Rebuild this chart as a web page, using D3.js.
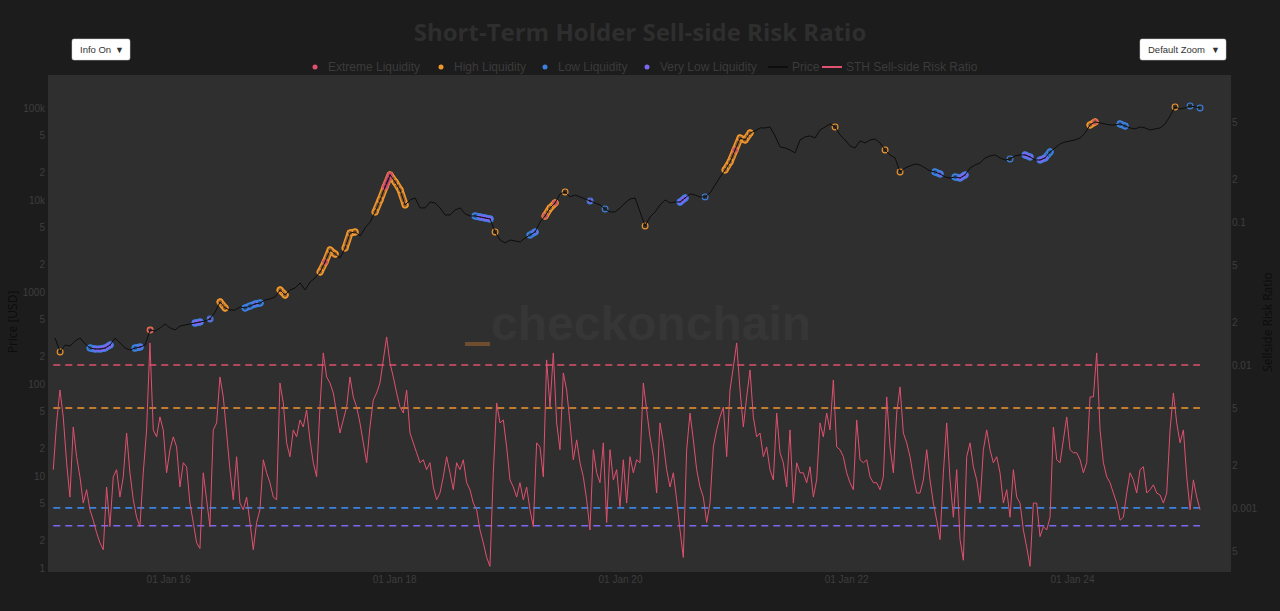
<!DOCTYPE html>
<html><head><meta charset="utf-8">
<script src="https://cdn.jsdelivr.net/npm/d3@7"></script>
<style>
html,body{margin:0;padding:0;background:#1c1c1c;overflow:hidden;}
svg{display:block;font-family:"Open Sans","Liberation Sans",Arial,sans-serif;}
</style></head><body>
<svg id="chart" width="1280" height="611"></svg>
<script>
// ---------------- DATA ----------------
const chartTitle = "Short-Term Holder Sell-side Risk Ratio";
const legendNames = ["Extreme Liquidity","High Liquidity","Low Liquidity","Very Low Liquidity","Price","STH Sell-side Risk Ratio"];
const thresholdValues = [0.01, 0.005, 0.001, 0.00075]; // Extreme, High, Low, Very Low
const priceStart = "2015-01-01", priceEnd = "2025-02-18";
const priceValues = [316,223,265,259,293,316,272,246,240,240,246,265,316,279,246,234,246,252,265,386,377,406,449,406,386,427,438,449,460,472,484,509,606,779,670,637,637,687,670,705,741,759,819,840,883,1051,928,1051,1105,1253,1051,1284,1419,1649,2118,2862,2589,2342,3008,4377,4487,4063,4963,5768,7411,10000,13840,18700,15700,12850,8830,10000,10510,8190,8190,9510,9270,8190,6870,6870,7780,8190,7050,6700,6700,6530,6370,6210,4490,3670,3410,3670,3580,3490,3860,4170,4490,5770,6700,8190,9270,11620,12210,10790,11330,10790,10250,9750,9270,8830,7980,7410,7410,8190,9270,10250,10510,7410,5220,6530,7410,8830,10000,9270,9510,9510,10510,11620,11330,10790,10790,11910,14560,17780,21200,25880,34930,47180,44900,53480,56280,60640,60640,62130,49640,37670,36740,34930,32430,44900,48430,49640,47180,57660,62130,66980,62130,50920,44900,38610,36740,43770,41660,44900,46020,41660,34930,30840,28630,20150,22270,23420,24620,23990,22270,20660,20150,19170,17780,17320,17780,17320,18700,22270,23990,25240,28630,30070,30840,28630,27200,27900,30070,30840,30840,29330,27200,27200,28630,33240,36740,40640,42680,43770,44900,47180,53480,65350,70440,68700,66980,65350,65350,66980,63710,60640,59140,62130,60640,57660,59140,60640,66980,81850,102500,97590,100000,105100,102500,100000];
const riskStart = "2014-12-26", riskEnd = "2025-02-18";
const riskValues = [
0.00185,0.00393,0.00668,0.00433,0.00207,0.00119,0.00368,0.00228,0.00165,0.00108,
0.00134,0.00097,0.00082,0.00067,0.00057,0.00051,0.00140,0.00074,0.00165,0.00185,
0.00119,0.00165,0.00334,0.00176,0.00114,0.00086,0.00074,0.00176,0.00351,0.01425,
0.00351,0.00314,0.00433,0.00351,0.00176,0.00255,0.00314,0.00267,0.00140,0.00207,
0.00194,0.00108,0.00079,0.00057,0.00052,0.00176,0.00114,0.00074,0.00351,0.00393,
0.00824,0.00597,0.00334,0.00185,0.00114,0.00228,0.00108,0.00097,0.00119,0.00079,
0.00051,0.00079,0.00097,0.00217,0.00176,0.00150,0.00119,0.00114,0.00748,0.00542,
0.00285,0.00228,0.00351,0.00314,0.00412,0.00368,0.00484,0.00299,0.00207,0.00165,
0.00508,0.01213,0.00824,0.00748,0.00637,0.00461,0.00334,0.00412,0.00508,0.00824,
0.00597,0.00508,0.00393,0.00285,0.00207,0.00368,0.00569,0.00637,0.00748,0.01084,
0.01570,0.01033,0.00824,0.00637,0.00508,0.00461,0.00668,0.00334,0.00285,0.00243,
0.00207,0.00217,0.00185,
0.00207,0.00140,0.00114,0.00127,0.00165,0.00228,0.00176,0.00134,0.00207,0.00185,
0.00217,0.00150,0.00134,0.00108,0.00097,0.00070,0.00057,0.00045,0.00039,0.00176,
0.00542,0.00393,0.00412,0.00267,0.00157,0.00140,0.00119,0.00150,0.00114,0.00140,
0.00097,0.00074,0.00285,0.00267,0.00165,0.01084,0.00508,0.01213,0.00393,0.00255,
0.00879,0.00668,0.00393,0.00217,0.00299,0.00207,0.00165,0.00114,0.00070,0.00255,
0.00176,0.00150,0.00285,0.00079,0.00255,0.00157,0.00185,0.00102,0.00217,0.00108,
0.00228,0.00176,0.00217,0.00207,0.00748,0.00484,0.00314,0.00228,0.00127,0.00393,
0.00285,0.00185,0.00140,0.00176,0.00114,0.00070,0.00045,0.00255,0.00461,0.00299,
0.00185,0.00140,0.00119,0.00079,0.00108,0.00267,0.00351,0.00433,0.00508,0.00228,
0.00668,0.00968,0.01425,0.00668,0.00368,0.00597,0.00923,0.00433,0.00314,0.00334,
0.00228,0.00267,0.00185,0.00157,0.00461,0.00243,0.00207,0.00140,0.00351,0.00108,
0.00207,0.00176,0.00176,0.00150,0.00194,0.00119,0.00157,
0.00393,0.00314,0.00461,0.00351,0.00785,0.00267,0.00255,0.00228,0.00176,0.00150,
0.00134,0.00412,0.00217,0.00207,0.00217,0.00165,0.00150,0.00150,0.00134,0.00165,
0.00597,0.00267,0.00176,0.00461,0.00702,0.00334,0.00285,0.00228,0.00165,0.00127,
0.00127,0.00157,0.00255,0.00157,0.00108,0.00082,0.00060,0.00176,0.00393,0.00157,
0.00086,0.00185,0.00060,0.00043,0.00228,0.00285,0.00194,0.00157,0.00108,0.00255,
0.00351,0.00255,0.00207,0.00228,0.00176,0.00108,0.00134,0.00086,0.00185,0.00119,
0.00108,0.00070,0.00053,0.00039,0.00108,0.00108,0.00063,0.00074,0.00070,0.00086,
0.00368,0.00217,0.00207,0.00299,0.00433,0.00255,0.00243,0.00243,0.00217,0.00176,
0.00207,0.00597,0.00597,0.01213,0.00351,0.00207,0.00165,0.00150,0.00127,0.00108,
0.00082,0.00086,0.00127,0.00176,0.00157,0.00127,0.00185,0.00194,0.00127,0.00134,
0.00145,0.00127,0.00123,0.00108,0.00127,0.00351,0.00637,0.00393,0.00285,0.00351,
0.00165,0.00097,0.00157,0.00119,0.00097];
const priceTickValues = [1,2,5,10,20,50,100,200,500,1000,2000,5000,10000,20000,50000,100000];
const priceTickLabels = ["1","2","5","10","2","5","100","2","5","1000","2","5","10k","2","5","100k"];
const riskTickValues = [0.0005,0.001,0.002,0.005,0.01,0.02,0.05,0.1,0.2,0.5];
const riskTickLabels = ["5","0.001","2","5","0.01","2","5","0.1","2","5"];

// ---------------- STYLE / LAYOUT ----------------
const W = 1280, H = 611;
const plot = {left: 48, right: 1231, top: 75, bottom: 572};
const colors = {
  extreme: "#e0506f", high: "#f0962c", low: "#3b82e0", verylow: "#7a68f2",
  price: "#0d0d0d", risk: "#e0506f",
  paper: "#1c1c1c", plotBg: "#2f2f2f", text: "#3b3b3b", tick: "#3e3e3e"
};
const svg = d3.select("#chart");

svg.append("rect").attr("width", W).attr("height", H).attr("fill", colors.paper);
svg.append("rect").attr("x", plot.left).attr("y", plot.top)
  .attr("width", plot.right - plot.left).attr("height", plot.bottom - plot.top)
  .attr("fill", colors.plotBg);

// scales
const x = d3.scaleTime()
  .domain([new Date("2014-12-09"), new Date("2025-05-29")])
  .range([plot.left, plot.right]);
const yPrice = d3.scaleLog().domain([0.905, 228000]).range([plot.bottom, plot.top]);
const yRisk = d3.scaleLog().domain([0.000356, 1.067]).range([plot.bottom, plot.top]);

function evenDates(start, end, n) {
  const a = +new Date(start), b = +new Date(end);
  return d3.range(n).map(i => new Date(a + (b - a) * i / (n - 1)));
}
const priceData = evenDates(priceStart, priceEnd, priceValues.length).map((d, i) => ({date: d, v: priceValues[i]}));
const riskData = evenDates(riskStart, riskEnd, riskValues.length).map((d, i) => ({date: d, v: riskValues[i]}));

// watermark
const wm = svg.append("g");
wm.append("rect").attr("x", 465).attr("y", 342).attr("width", 25).attr("height", 4).attr("fill", "#6e4e2e");
wm.append("text").attr("x", 491).attr("y", 340).attr("font-size", 48).attr("font-weight", "bold")
  .attr("font-family", "Liberation Sans, Arial, sans-serif")
  .attr("fill", "#363636").text("checkonchain");

// axes (ticks as text)
const gL = svg.append("g").attr("transform", `translate(${plot.left},0)`);
gL.call(d3.axisLeft(yPrice).tickValues(priceTickValues)
  .tickFormat((d, i) => priceTickLabels[i]).tickSize(0).tickPadding(3));
const gR = svg.append("g").attr("transform", `translate(${plot.right},0)`);
gR.call(d3.axisRight(yRisk).tickValues(riskTickValues)
  .tickFormat((d, i) => riskTickLabels[i]).tickSize(0).tickPadding(1));
const gB = svg.append("g").attr("transform", `translate(0,${plot.bottom})`);
gB.call(d3.axisBottom(x).ticks(d3.timeYear.every(2)).tickFormat(d3.timeFormat("%d %b %y")).tickSize(0).tickPadding(4));
[gL, gR, gB].forEach(g => {
  g.select(".domain").remove();
  g.selectAll("text").attr("fill", colors.tick).attr("font-size", 10).attr("font-family", "Liberation Sans, Arial, sans-serif");
});

// axis titles
svg.append("text").attr("transform", "translate(17,322) rotate(-90)").attr("text-anchor", "middle")
  .attr("font-size", 12).attr("fill", "#0c0c0c").text("Price [USD]");
svg.append("text").attr("transform", "translate(1272,322) rotate(-90)").attr("text-anchor", "middle")
  .attr("font-size", 12).attr("fill", "#0c0c0c").text("Sellside Risk Ratio");

// clip
svg.append("clipPath").attr("id", "clip").append("rect")
  .attr("x", plot.left).attr("y", plot.top).attr("width", plot.right - plot.left).attr("height", plot.bottom - plot.top);
const gP = svg.append("g").attr("clip-path", "url(#clip)");

// threshold lines
const thrColors = [colors.extreme, colors.high, colors.low, colors.verylow];
gP.selectAll("line.thr").data(thresholdValues).join("line").attr("class", "thr")
  .attr("x1", x(new Date(riskStart))).attr("x2", x(new Date(riskEnd)))
  .attr("y1", d => yRisk(d)).attr("y2", d => yRisk(d))
  .attr("stroke", (d, i) => thrColors[i]).attr("stroke-width", 1.6).attr("stroke-dasharray", "7,5");

// risk line
gP.append("path").datum(riskData)
  .attr("d", d3.line().x(d => x(d.date)).y(d => yRisk(d.v)))
  .attr("fill", "none").attr("stroke", colors.risk).attr("stroke-width", 1);

// liquidity regime of each price sample: max / min of the risk samples inside its time window
const halfStep = (+new Date(priceEnd) - +new Date(priceStart)) / (priceValues.length - 1) / 2;
priceData.forEach(p => {
  const inWin = riskData.filter(r => Math.abs(+r.date - +p.date) <= halfStep * 1.05);
  const vals = inWin.length ? inWin.map(r => r.v) : [riskData[d3.bisector(d => d.date).center(riskData, p.date)].v];
  p.rMax = d3.max(vals); p.rMin = d3.min(vals);
});
const groups = [
  {key: "high", test: p => p.rMax >= thresholdValues[1], color: colors.high, w: 7},
  {key: "extreme", test: p => p.rMax >= thresholdValues[0], color: colors.extreme, w: 6},
  {key: "low", test: p => p.rMin <= thresholdValues[2], color: colors.low, w: 7},
  {key: "verylow", test: p => p.rMin <= thresholdValues[3], color: colors.verylow, w: 5}
];
const lineP = d3.line().x(d => x(d.date)).y(d => yPrice(d.v));
groups.forEach(g => {
  const runs = [];
  let cur = null;
  priceData.forEach(p => {
    if (g.test(p)) { if (!cur) { cur = []; runs.push(cur); } cur.push(p); }
    else cur = null;
  });
  const gg = gP.append("g").attr("class", g.key);
  runs.forEach(run => {
    if (run.length > 1) {
      gg.append("path").datum(run).attr("d", lineP).attr("fill", "none")
        .attr("stroke", g.color).attr("stroke-width", g.w).attr("stroke-linejoin", "round").attr("stroke-linecap", "round");
      gg.append("path").datum(run).attr("d", lineP).attr("fill", "none")
        .attr("stroke", "#2a2a3a").attr("stroke-opacity", 0.55).attr("stroke-width", g.w - 3.2)
        .attr("stroke-linejoin", "round").attr("stroke-linecap", "round");
    }
    run.forEach(p => {
      gg.append("circle").attr("cx", x(p.date)).attr("cy", yPrice(p.v)).attr("r", g.w / 2 - 0.6)
        .attr("fill", "none").attr("stroke", g.color).attr("stroke-width", 1.1);
    });
  });
});
// price line
gP.append("path").datum(priceData)
  .attr("d", lineP).attr("fill", "none").attr("stroke", colors.price).attr("stroke-width", 1);

// title
svg.append("text").attr("x", 640).attr("y", 41).attr("text-anchor", "middle")
  .attr("font-size", 24).attr("font-weight", "bold").attr("fill", "#2e2e2e")
  .attr("font-family", "Open Sans, Liberation Sans, sans-serif").text(chartTitle);

// legend
const legX = [315, 441, 545, 647, 768, 822];
const legSym = [colors.extreme, colors.high, colors.low, colors.verylow, colors.price, colors.risk];
const leg = svg.append("g").attr("font-family", "Liberation Sans, Arial, sans-serif");
legendNames.forEach((name, i) => {
  const g = leg.append("g");
  if (i < 4) {
    g.append("circle").attr("cx", legX[i]).attr("cy", 67).attr("r", 2.5).attr("fill", legSym[i]);
    g.append("text").attr("x", legX[i] + 13).attr("y", 71).attr("font-size", 12).attr("fill", colors.text).text(name);
  } else {
    g.append("line").attr("x1", legX[i]).attr("x2", legX[i] + 20).attr("y1", 67).attr("y2", 67)
      .attr("stroke", legSym[i]).attr("stroke-width", 2);
    g.append("text").attr("x", legX[i] + 24).attr("y", 71).attr("font-size", 12).attr("fill", colors.text).text(name);
  }
});

// dropdown buttons
function button(x0, y0, w, label) {
  const g = svg.append("g").attr("font-family", "Liberation Sans, Arial, sans-serif");
  g.append("rect").attr("x", x0).attr("y", y0).attr("width", w).attr("height", 21).attr("rx", 2)
    .attr("fill", "#ffffff").attr("stroke", "#d0d0d0").attr("stroke-width", 0.5);
  g.append("text").attr("x", x0 + 8).attr("y", y0 + 14).attr("font-size", 9.5).attr("fill", "#333").text(label);
  g.append("text").attr("x", x0 + w - 6).attr("y", y0 + 14).attr("text-anchor", "end").attr("font-size", 9).attr("fill", "#333").text("▼");
}
button(72, 39, 58, "Info On");
button(1140, 39, 86, "Default Zoom");
</script>
</body></html>
